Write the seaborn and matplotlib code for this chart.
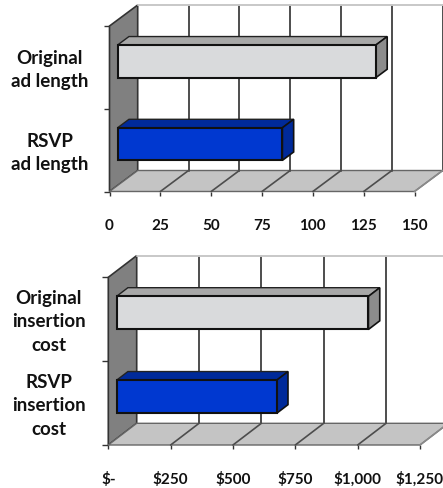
import matplotlib
matplotlib.use('Agg')
import matplotlib.pyplot as plt
from matplotlib.patches import Polygon
from matplotlib.transforms import Affine2D, IdentityTransform
import pandas as pd
import seaborn as sns

# Data
length_labels = ['Original\nad length', 'RSVP\nad length']
length_values = [127, 81]
length_ticks = [0, 25, 50, 75, 100, 125, 150]
length_ticklabels = ['0', '25', '50', '75', '100', '125', '150']

cost_labels = ['Original\ninsertion\ncost', 'RSVP\ninsertion\ncost']
cost_values = [1010, 642]
cost_ticks = [0, 250, 500, 750, 1000, 1250]
cost_ticklabels = ['$-', '$250', '$500', '$750', '$1,000', '$1,250']

W, H = 443, 489
FONT = 'Lato'

face_colors = ['#d9dadc', '#0038d0']
top_colors = ['#a8a8a8', '#002a9a']
side_colors = ['#8c8c8c', '#002a9a']

sns.set_theme(style='white')
plt.rcParams['font.family'] = [FONT, 'DejaVu Sans']

fig = plt.figure(figsize=(W / 100, H / 100), dpi=100)


def draw_chart(labels, values, ticks, ticklabels, left, right, top, bottom, dx, dy):
    ax = fig.add_axes([left / W, 1 - bottom / H, (right - left) / W, (bottom - top) / H])
    df = pd.DataFrame({'label': labels, 'value': values})
    sns.barplot(data=df, y='label', x='value', hue='label', palette=face_colors,
                width=0.395, legend=False, edgecolor='#111111', linewidth=1.5,
                saturation=1, ax=ax, zorder=5)
    ax.set_xlim(ticks[0], ticks[-1])
    ax.set_ylim(1.5, -0.5)
    ax.set_xlabel('')
    ax.set_ylabel('')
    ax.patch.set_visible(False)
    sns.despine(ax=ax, left=True, bottom=True, top=True, right=True)

    # screen position of a data point pushed back into the 3D depth
    def pt(x, y, d=0.0):
        px, py = ax.transData.transform((x, y))
        return (px + d * dx, py + d * dy)

    def poly(points, color, edge='none', lw=0, z=1):
        ax.add_patch(Polygon(points, closed=True, facecolor=color, edgecolor=edge, linewidth=lw,
                             transform=IdentityTransform(), clip_on=False, zorder=z))

    x0, x1 = ticks[0], ticks[-1]
    # wall and floor
    poly([pt(x0, 1.5), pt(x0, -0.5), pt(x0, -0.5, 1), pt(x0, 1.5, 1)], '#808080', '#333333', 1.2, 1)
    poly([pt(x0, 1.5), pt(x1, 1.5), pt(x1, 1.5, 1), pt(x0, 1.5, 1)], '#c4c4c4', '#666666', 1.0, 1)

    # back plane grid
    for t in ticks[1:]:
        ax.plot(*zip(pt(t, 1.5, 1), pt(t, -0.5, 1)), color='#4d4d4d', lw=1.4,
                transform=IdentityTransform(), clip_on=False, zorder=2)
    for t in ticks[1:-1]:
        ax.plot(*zip(pt(t, 1.5), pt(t, 1.5, 1)), color='#4d4d4d', lw=1.2,
                transform=IdentityTransform(), clip_on=False, zorder=2)
    ax.plot(*zip(pt(x0, -0.5, 1), pt(x1, -0.5, 1)), color='#c8c8c8', lw=1.4,
            transform=IdentityTransform(), clip_on=False, zorder=2)
    ax.plot(*zip(pt(x1, 1.5), pt(x1, 1.5, 1)), color='#8a8a8a', lw=1.2,
            transform=IdentityTransform(), clip_on=False, zorder=2)

    # bar faces, sides and tops
    d1, d2 = 0.29, 0.69
    shift = Affine2D().translate(d1 * dx, d1 * dy)
    for i, bar in enumerate(ax.patches[:2]):
        bar.set_transform(ax.transData + shift)
        bar.set_clip_on(False)
        x = bar.get_width()
        y0, y1 = bar.get_y(), bar.get_y() + bar.get_height()
        poly([pt(0, y0, d1), pt(x, y0, d1), pt(x, y0, d2), pt(0, y0, d2)], top_colors[i], '#222222', 1.0, 4)
        poly([pt(x, y0, d1), pt(x, y1, d1), pt(x, y1, d2), pt(x, y0, d2)], side_colors[i], '#111111', 1.2, 4)

    # axes ticks and labels
    ax.set_xticks(ticks)
    ax.set_xticklabels(ticklabels, fontsize=11, fontweight='bold', color='#111111', va='baseline')
    ax.tick_params(axis='x', bottom=True, length=3, width=1, color='#333333', pad=24.3)
    ax.set_yticks([0, 1])
    ax.set_yticklabels(labels, fontsize=13.5, fontweight='bold', color='#111111', linespacing=1.45)
    ax.tick_params(axis='y', left=False, pad=37)
    nudge = Affine2D().translate(0, 3)
    for lab in ax.get_yticklabels():
        lab.set_ha('center')
        lab.set_transform(lab.get_transform() + nudge)
    ax.set_yticks([-0.5, 0.5, 1.5], minor=True)
    ax.tick_params(axis='y', which='minor', left=True, length=4, width=1, color='#333333')
    return ax


draw_chart(length_labels, length_values, length_ticks, length_ticklabels,
           109.5, 414.5, 27, 192.5, 28.2, 21)
draw_chart(cost_labels, cost_values, cost_ticks, cost_ticklabels,
           108.3, 420, 278.3, 446, 28.4, 21.7)

fig.savefig('out.png', dpi=100)
